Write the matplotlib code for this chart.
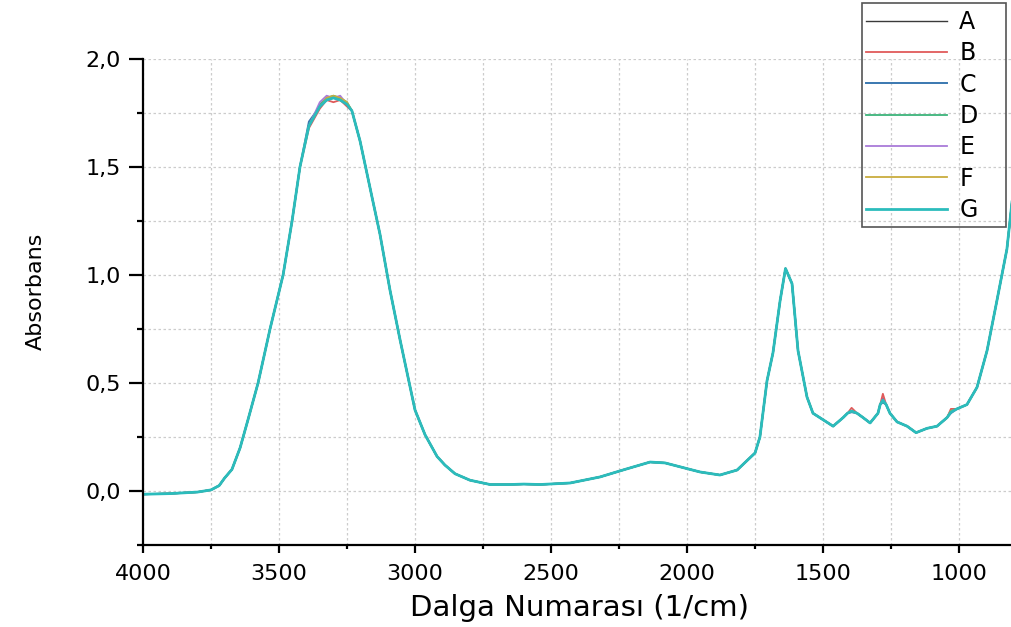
#!/usr/bin/env python3

"""
FTIR absorbance spectra of seven samples (A-G), plotted against wavenumber.

Run command:
```bash
python3 plot.py
```
"""

import matplotlib
matplotlib.use("Agg")
import matplotlib.pyplot as plt
from matplotlib.patches import Rectangle
from matplotlib.ticker import MultipleLocator, FuncFormatter

# =========================================================
# Data
# =========================================================

# Common part of the spectrum (wavenumber in 1/cm, absorbance)
base_wn = [4000, 3900, 3800, 3750, 3720, 3700, 3673, 3643, 3614, 3577, 3533, 3485,
           3452, 3423, 3232, 3202, 3158, 3129, 3092, 3055, 3000, 2963, 2919, 2890,
           2853, 2798, 2724, 2651, 2600, 2540, 2430, 2320, 2228, 2136, 2081, 1989,
           1952, 1879, 1816, 1750, 1732, 1706, 1684, 1658, 1638, 1614, 1592, 1559,
           1537, 1500, 1463, 1426, 1410, 1375, 1353, 1327, 1298, 1290, 1268, 1254,
           1228, 1191, 1158, 1118, 1081, 1044, 1008, 971, 934, 897, 861, 824, 800]
base_abs = [-0.015, -0.012, -0.005, 0.005, 0.025, 0.06, 0.10, 0.20, 0.33, 0.50, 0.75, 1.00,
            1.25, 1.50, 1.76, 1.62, 1.36, 1.19, 0.93, 0.70, 0.375, 0.26, 0.16, 0.12,
            0.08, 0.05, 0.03, 0.03, 0.032, 0.03, 0.037, 0.065, 0.10, 0.134, 0.13, 0.10,
            0.088, 0.074, 0.097, 0.176, 0.25, 0.51, 0.64, 0.88, 1.03, 0.96, 0.65, 0.435,
            0.36, 0.33, 0.30, 0.34, 0.36, 0.36, 0.34, 0.315, 0.36, 0.40, 0.40, 0.36,
            0.32, 0.30, 0.27, 0.29, 0.30, 0.34, 0.38, 0.40, 0.48, 0.65, 0.88, 1.12, 1.40]

# Wavenumbers where the samples differ from each other
var_wn = [3390, 3350, 3325, 3300, 3275, 3250, 1395, 1280, 1030]

labels = ["A", "B", "C", "D", "E", "F", "G"]
var_abs = {
    "A": [1.69, 1.78, 1.81, 1.82, 1.82, 1.79, 0.370, 0.430, 0.370],
    "B": [1.68, 1.77, 1.81, 1.80, 1.81, 1.78, 0.385, 0.450, 0.380],
    "C": [1.71, 1.78, 1.81, 1.82, 1.81, 1.79, 0.365, 0.410, 0.360],
    "D": [1.69, 1.79, 1.82, 1.83, 1.82, 1.80, 0.370, 0.420, 0.370],
    "E": [1.69, 1.80, 1.83, 1.82, 1.83, 1.79, 0.370, 0.425, 0.365],
    "F": [1.69, 1.78, 1.82, 1.83, 1.82, 1.80, 0.370, 0.420, 0.370],
    "G": [1.69, 1.78, 1.81, 1.82, 1.81, 1.79, 0.370, 0.420, 0.365],
}

colors = ["#3a3a3a", "#e05a5a", "#3a78b0", "#3cb37a", "#a97bd9", "#c9ad3e", "#2bbcbc"]
widths = [1.0, 1.3, 1.4, 1.3, 1.3, 1.3, 2.0]

# =========================================================
# Plot
# =========================================================

plt.rcParams["font.family"] = ["DejaVu Sans"]

fig = plt.figure(figsize=(10.11, 6.27), dpi=100)
ax = fig.add_axes([143 / 1011, 82 / 627, 868 / 1011, 486 / 627])

for lab, col, lw in zip(labels, colors, widths):
    pts = sorted(zip(base_wn + var_wn, base_abs + var_abs[lab]), reverse=True)
    wn = [p[0] for p in pts]
    ab = [p[1] for p in pts]
    ax.plot(wn, ab, color=col, lw=lw, label=lab, solid_joinstyle="round")

ax.set_xlim(4000, 809)
ax.set_ylim(-0.25, 2.0)

ax.xaxis.set_major_locator(MultipleLocator(500))
ax.xaxis.set_minor_locator(MultipleLocator(250))
ax.yaxis.set_major_locator(MultipleLocator(0.5))
ax.yaxis.set_minor_locator(MultipleLocator(0.25))
ax.yaxis.set_major_formatter(FuncFormatter(lambda v, pos: f"{v:.1f}".replace(".", ",")))

# dotted grid at every major and minor tick
ax.grid(True, which="both", color="#cccccc", linestyle=(0, (2, 2)), linewidth=0.9)
ax.set_axisbelow(True)

for side in ["top", "right"]:
    ax.spines[side].set_visible(False)
for side in ["left", "bottom"]:
    ax.spines[side].set_linewidth(1.6)

ax.tick_params(axis="both", which="major", direction="out", width=1.6, labelsize=16)
ax.tick_params(axis="x", which="major", length=5.8, pad=8)
ax.tick_params(axis="x", which="minor", length=3, width=1.6)
ax.tick_params(axis="y", which="major", length=10, pad=6)
ax.tick_params(axis="y", which="minor", length=4.5, width=1.6)

ax.set_xlabel("Dalga Numarası (1/cm)", fontsize=21)
ax.xaxis.set_label_coords(0.503, -0.101)
ax.set_ylabel("Absorbans", fontsize=16)
ax.yaxis.set_label_coords(-0.112, 0.523)

# legend without its own frame, boxed by a rectangle in figure coords
leg = ax.legend(loc="upper left", bbox_to_anchor=(866 / 1011, 1 - 10 / 627),
                bbox_transform=fig.transFigure, borderaxespad=0, borderpad=0,
                fontsize=17, handlelength=3.45, handletextpad=0.5,
                labelspacing=0.31, frameon=False)
fig.patches.append(Rectangle((862 / 1011, 1 - 227 / 627), 144 / 1011, 224 / 627,
                             transform=fig.transFigure, fill=False,
                             edgecolor="#555555", linewidth=1.2))

fig.savefig("out.png", dpi=100)
